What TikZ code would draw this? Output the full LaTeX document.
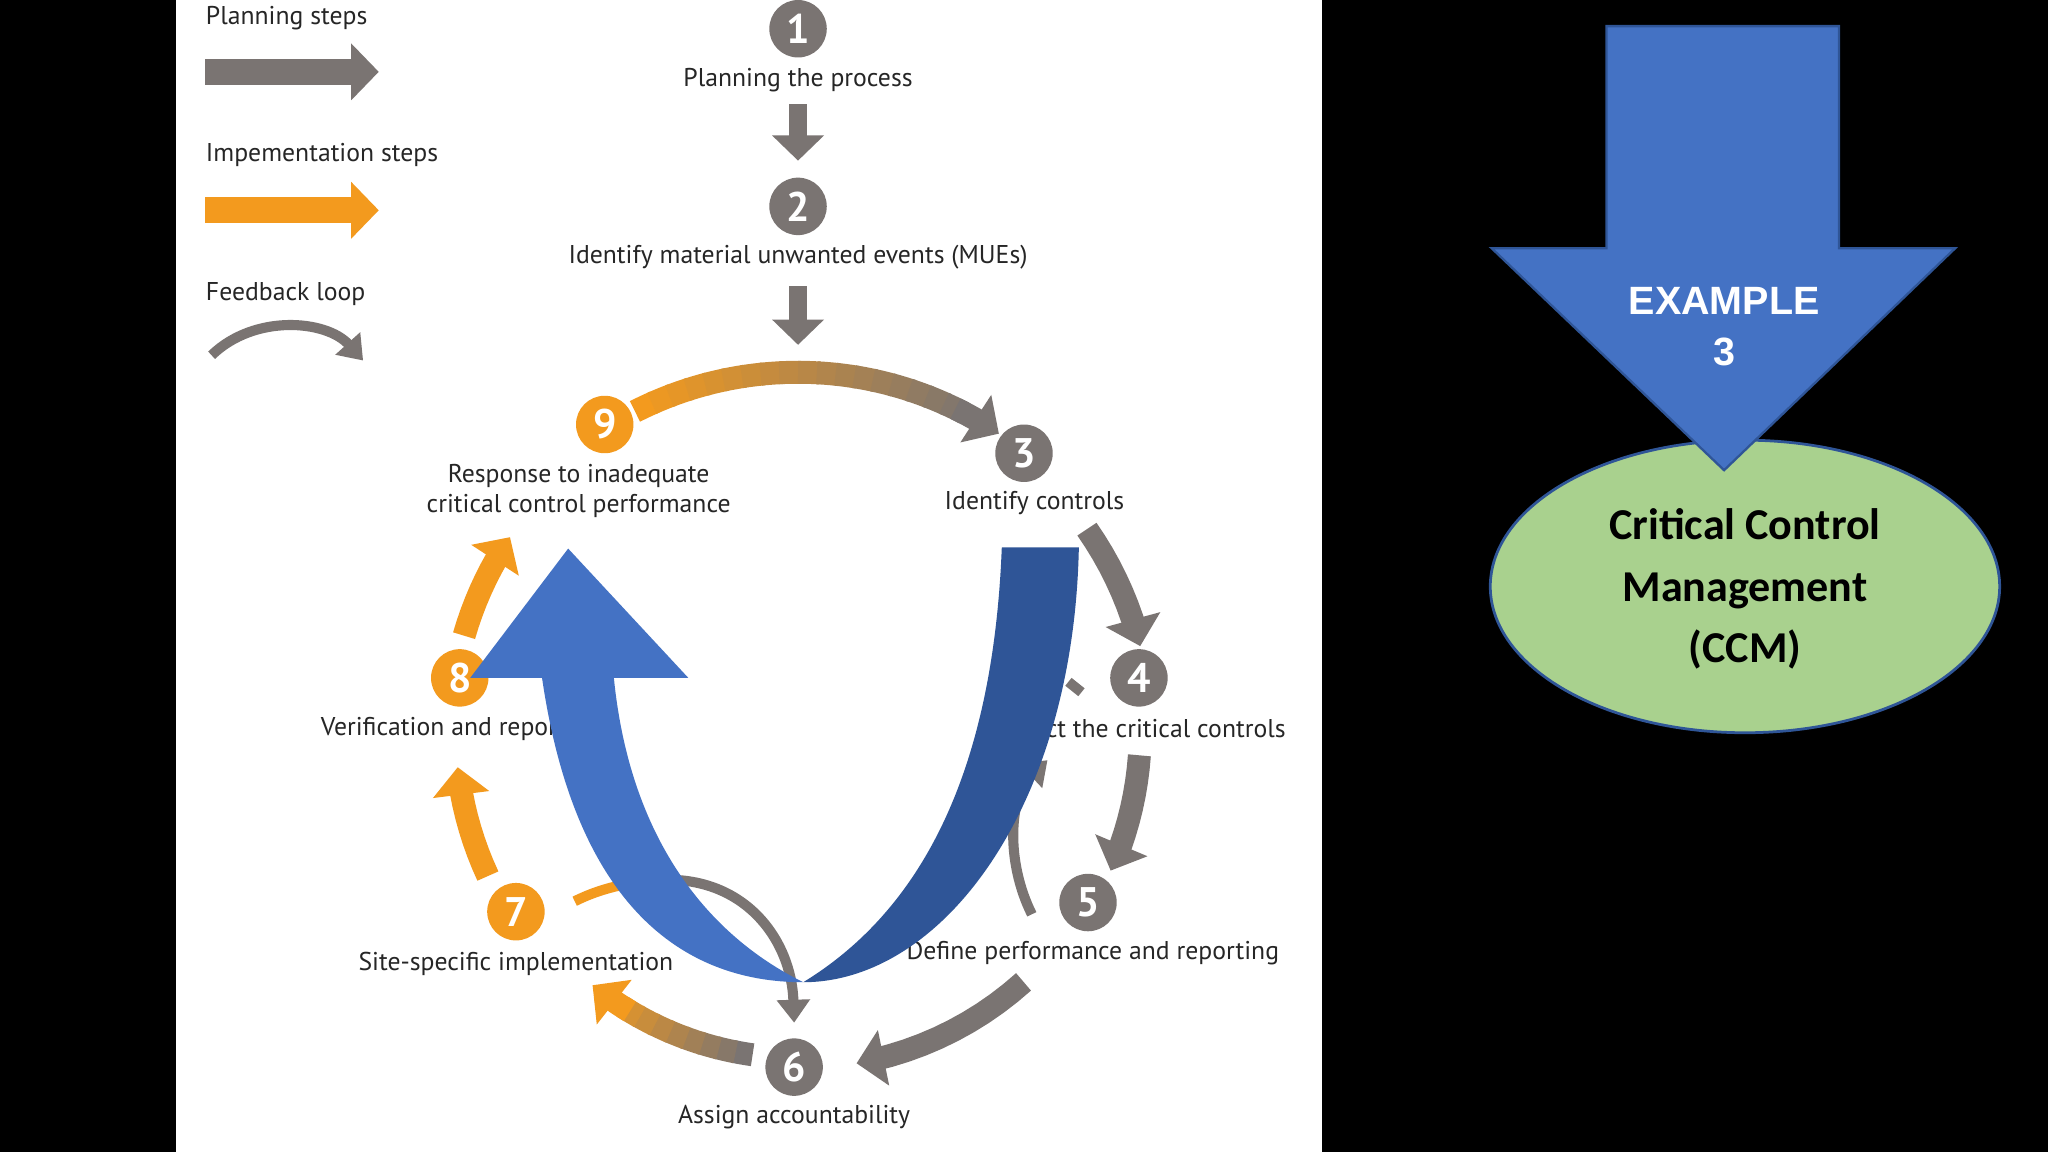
\documentclass[tikz,border=0pt]{standalone}
\usepackage{fontspec}
\setmainfont{PT Sans}
\newfontfamily\carl{Carlito}
\newfontfamily\arl{Liberation Sans}
\usetikzlibrary{arrows.meta}
\definecolor{dg}{HTML}{7A7472}
\definecolor{og}{HTML}{F39A1E}
\definecolor{bl}{HTML}{4472C4}
\definecolor{bld}{HTML}{2F5597}
\definecolor{gr}{HTML}{A9D18E}
\tikzset{
 num/.style={circle,fill=#1,text=white,font=\bfseries\fontsize{9}{9}\selectfont,minimum size=4.4mm,inner sep=0pt},
 lbl/.style={font=\fontsize{5.6}{6.6}\selectfont,text=black!85,align=center,inner sep=0pt},
 fat/.style={line width=5pt,-{Triangle[width=12pt,length=6pt]}},
}
\begin{document}
\begin{tikzpicture}[x=0.1mm,y=-0.1mm]
\fill[black] (0,0) rectangle (1568,882);
\useasboundingbox (0,0) rectangle (1568,882);
\fill[white] (135,0) rectangle (1012,882);
% legend
\node[lbl,anchor=west] (l1) at (157,14) {Planning steps};
\draw[dg,line width=5.7pt,-{Triangle[width=12pt,length=6pt]}] (157,55) -- (290,55);
\node[lbl,anchor=west] (l2) at (157,119) {Impementation steps};
\draw[og,line width=5.7pt,-{Triangle[width=12pt,length=6pt]}] (157,161) -- (290,161);
\node[lbl,anchor=west] (l3) at (157,225) {Feedback loop};
\draw[dg,line width=2.2pt,-{Triangle[width=7pt,length=5pt]}] (162,272) .. controls (195,240) and (250,245) .. (278,276);
% top
\node[num=dg] (n1) at (611,22) {1};
\node[lbl] (t1) at (611,61) {Planning the process};
\node[num=dg] (n2) at (611,158) {2};
\node[lbl] (t2) at (611,197) {Identify material unwanted events (MUEs)};
\coordinate (d1a) at (611,80); \coordinate (d1b) at (611,123);
\coordinate (d2a) at (611,219); \coordinate (d2b) at (611,264);
\draw[dg,line width=4pt,-{Triangle[width=11pt,length=5.5pt]}] (d1a) -- (d1b);
\draw[dg,line width=4pt,-{Triangle[width=11pt,length=5.5pt]}] (d2a) -- (d2b);
% cycle nodes
\node[num=dg] (n3) at (784,347) {3};
\node[lbl] (t3) at (792,385) {Identify controls};
\node[num=dg] (n4) at (872,519) {4};
\node[lbl,anchor=east] (t4) at (985,558) {Select the critical controls};
\node[num=dg] (n5) at (833,691) {5};
\node[lbl,anchor=east] (t5) at (980,730) {Define performance and reporting};
\node[num=dg] (n6) at (608,817) {6};
\node[lbl] (t6) at (608,855) {Assign accountability};
\node[num=og] (n7) at (395,698) {7};
\node[lbl] (t7) at (395,738) {Site-specific implementation};
\node[num=og] (n8) at (352,519) {8};
\node[lbl,anchor=west] (t8) at (245,558) {Verification and reporting};
\node[num=og] (n9) at (463,325) {9};
\node[lbl] (t9) at (443,376) {Response to inadequate\\critical control performance};
% arcs
\foreach \a [evaluate=\a as \p using {(\a+117)/55*100}] in {-117,-114,...,-66}
  \draw[og!\fpeval{100-\p}!dg,line width=5pt] plot[domain=\a:\a+3.5,samples=4] ({611+275*cos(\x)},{560+275*sin(\x)});
\draw[dg,fat] plot[domain=-64:-56,samples=5] ({611+275*cos(\x)},{560+275*sin(\x)});
\draw[dg,fat] plot[domain=-35:-14,samples=10] ({611+270*cos(\x)},{560+270*sin(\x)});
\draw[dg,fat] plot[domain=4:24,samples=10] ({611+262*cos(\x)},{560+262*sin(\x)});
\draw[dg,fat] plot[domain=48:80,samples=12] ({611+258*cos(\x)},{560+258*sin(\x)});
\foreach \a [evaluate=\a as \p using {(\a-98)/28*100}] in {98,101,...,119}
  \draw[og!\fpeval{\p}!dg,line width=5pt] plot[domain=\a:\a+3.5,samples=4] ({611+250*cos(\x)},{560+250*sin(\x)});
\draw[og,fat] plot[domain=121:129,samples=5] ({611+250*cos(\x)},{560+250*sin(\x)});
\draw[og,fat] plot[domain=155:174,samples=10] ({611+262*cos(\x)},{560+262*sin(\x)});
\draw[og,fat] plot[domain=196:214,samples=10] ({611+266*cos(\x)},{560+266*sin(\x)});
% feedback inner
\draw[og,line width=2.2pt] (440,690) .. controls (460,680) and (480,676) .. (500,674);
\draw[dg,line width=2.2pt,-{Triangle[width=7pt,length=5pt]}] (500,674) .. controls (570,668) and (606,720) .. (608,783);
\draw[dg,line width=2.2pt,-{Triangle[width=7pt,length=5pt]}] (790,700) .. controls (770,660) and (772,610) .. (802,582);
\draw[dg,line width=2.2pt] (818,522) -- (828,530);
% blue U arrow
\fill[bld] (767,419) -- (826,419) .. controls (822,620) and (720,752) .. (615,752) .. controls (700,700) and (760,600) .. (767,419) -- cycle;
\fill[bl] (415,519) .. controls (440,690) and (520,752) .. (615,752) .. controls (540,715) and (482,640) .. (470,519) -- cycle;
\fill[bl] (360,519) -- (435,420) -- (527,519) -- cycle;
% right side
\fill[gr,draw=bld,line width=0.6pt] (1336,449) ellipse [x radius=195,y radius=112];
\node[font=\carl\bfseries\fontsize{9.6}{13.4}\selectfont,align=center] (ccm) at (1336,451) {Critical Control\\Management\\(CCM)};
\filldraw[fill=bl,draw=bld,line width=0.5pt] (1230,20) -- (1408,20) -- (1408,190) -- (1497,190) -- (1320,360) -- (1142,190) -- (1230,190) -- cycle;
\node[font=\arl\bfseries\fontsize{8.6}{11}\selectfont,text=white,align=center] (ex) at (1320,250) {EXAMPLE\\3};
\end{tikzpicture}
\end{document}
